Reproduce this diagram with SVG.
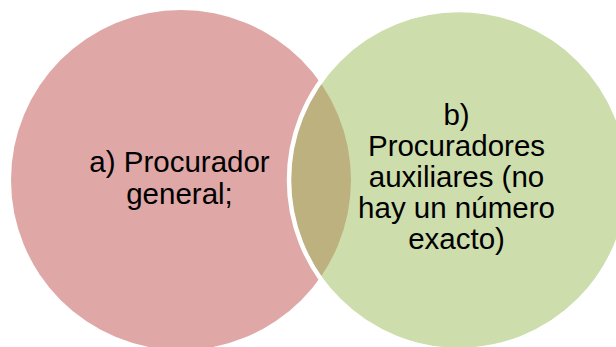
<svg xmlns="http://www.w3.org/2000/svg" width="616" height="347" viewBox="0 0 616 347">
  <style>
    .lbl { font-family: "Liberation Sans", Arial, sans-serif; font-size: 29.5px; fill: #000; text-anchor: middle; }
  </style>
  <rect width="616" height="347" fill="#ffffff"/>
  <g id="node-a">
    <circle cx="181" cy="180" r="170" fill="#C0504D" fill-opacity="0.5"/>
  </g>
  <g id="node-b">
    <circle cx="459" cy="180" r="170" fill="#9BBB59" fill-opacity="0.5" stroke="#ffffff" stroke-width="4.5"/>
  </g>
  <g id="labels">
    <text class="lbl" x="179.5" y="172">a) Procurador</text>
    <text class="lbl" x="179.5" y="203.5">general;</text>
    <text class="lbl" x="456.5" y="125">b)</text>
    <text class="lbl" x="456.5" y="156">Procuradores</text>
    <text class="lbl" x="456.5" y="187">auxiliares (no</text>
    <text class="lbl" x="456.5" y="218">hay un número</text>
    <text class="lbl" x="456.5" y="248.5">exacto)</text>
  </g>
  <g id="connectors"></g>
</svg>
